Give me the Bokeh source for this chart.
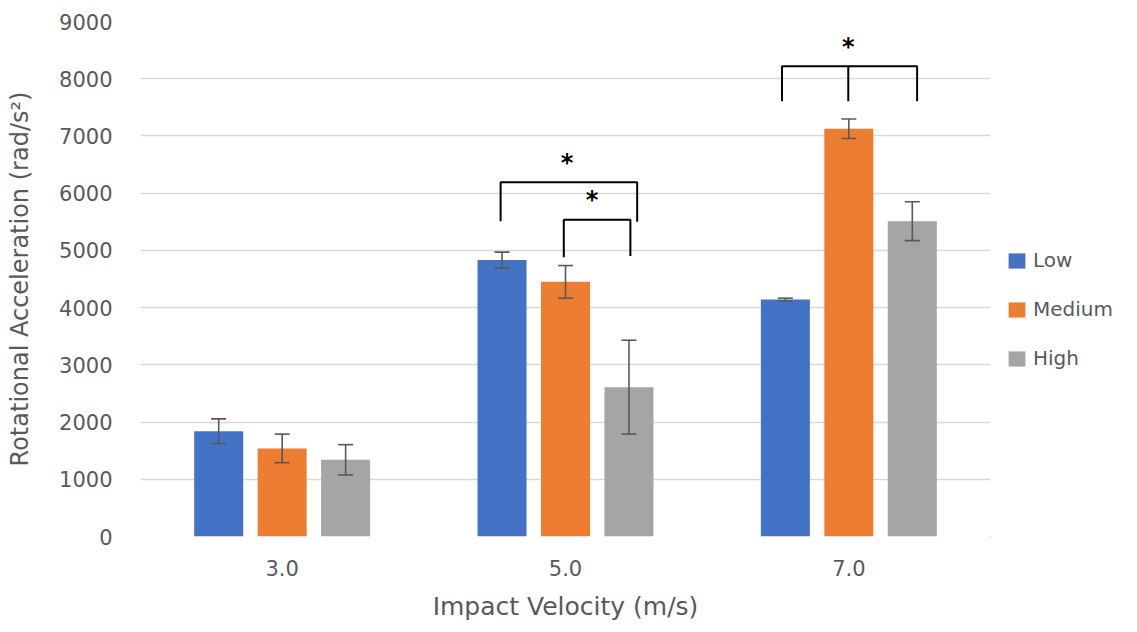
from bokeh.plotting import figure
from bokeh.layouts import row
from bokeh.models import ColumnDataSource, Range1d, FixedTicker, Legend, LegendItem
from bokeh.core.properties import value
from bokeh.embed import file_html
from bokeh.resources import INLINE

# ---------------- data ----------------
categories = ["3.0", "5.0", "7.0"]
series_names = ["Low", "Medium", "High"]
low = [1840, 4830, 4140]
low_err = [215, 140, 25]
medium = [1540, 4450, 7125]
medium_err = [250, 285, 170]
high = [1340, 2610, 5510]
high_err = [265, 820, 340]
colors = ["#4472C4", "#ED7D31", "#A5A5A5"]

# significance brackets (x in category units, y in rad/s^2)
bracket_xs = [[1.271, 1.271, 1.753, 1.753],
              [1.494, 1.494, 1.729, 1.729],
              [2.264, 2.264, 2.741, 2.741],
              [2.498, 2.498]]
bracket_ys = [[5510, 6190, 6190, 5500],
              [4880, 5535, 5535, 4900],
              [7605, 8217, 8217, 7605],
              [7605, 8217]]
star_x = [1.505, 1.594, 2.498]
star_y = [6521, 5881, 8561]
star_text = ["*", "*", "*"]

FONT = "DejaVu Sans"
GRAY = "#595959"

p = figure(width=990, height=632, output_backend="svg", toolbar_location=None,
           x_range=Range1d(0, 3), y_range=Range1d(0, 9000),
           min_border_left=140, min_border_right=0, min_border_top=21,
           min_border_bottom=96)
p.outline_line_color = None
p.background_fill_color = "white"
p.border_fill_color = "white"

# bars
offsets = [-0.224, 0.0, 0.224]
bar_w = 0.173
vals = [low, medium, high]
errs = [low_err, medium_err, high_err]
sources = []
for name, v, e, off, c in zip(series_names, vals, errs, offsets, colors):
    xs = [i + 0.5 + off for i in range(len(categories))]
    src = ColumnDataSource(dict(x=xs, top=v,
                                up=[a + b for a, b in zip(v, e)],
                                lo=[a - b for a, b in zip(v, e)]))
    sources.append(src)
    p.vbar(x="x", top="top", width=bar_w, bottom=0, source=src,
           fill_color=c, line_color=None)
    p.segment(x0="x", y0="lo", x1="x", y1="up", source=src,
              line_color=GRAY, line_width=1.6)
    p.scatter(x="x", y="up", marker="dash", size=15, source=src,
              line_color=GRAY, line_width=1.6)
    p.scatter(x="x", y="lo", marker="dash", size=15, source=src,
              line_color=GRAY, line_width=1.6)

# brackets and stars
p.multi_line(xs=bracket_xs, ys=bracket_ys, line_color="black", line_width=2)
p.text(x=star_x, y=star_y, text=star_text, text_font=value(FONT),
       text_font_size="24px", text_font_style="bold", text_color="black",
       text_align="center", text_baseline="middle")

# axes
p.xaxis.ticker = FixedTicker(ticks=[i + 0.5 for i in range(len(categories))])
p.xaxis.major_label_overrides = {i + 0.5: c for i, c in enumerate(categories)}
p.yaxis.ticker = FixedTicker(ticks=list(range(0, 9001, 1000)))
for ax in (p.xaxis[0], p.yaxis[0]):
    ax.axis_line_color = None
    ax.major_tick_line_color = None
    ax.minor_tick_line_color = None
    ax.major_tick_out = 0
    ax.major_tick_in = 0
    ax.major_label_text_font = FONT
    ax.major_label_text_font_size = "21px"
    ax.major_label_text_color = GRAY
    ax.axis_label_text_font = FONT
    ax.axis_label_text_font_style = "normal"
    ax.axis_label_text_color = GRAY
p.xaxis.axis_label = "Impact Velocity (m/s)"
p.xaxis.axis_label_text_font_size = "25px"
p.xaxis.major_label_standoff = 23
p.xaxis.axis_label_standoff = 13
p.yaxis.axis_label = "Rotational Acceleration (rad/s²)"
p.yaxis.axis_label_text_font_size = "24px"
p.yaxis.major_label_standoff = 28
p.yaxis.axis_label_standoff = 22

p.xgrid.grid_line_color = None
p.ygrid.grid_line_color = "#D9D9D9"
p.ygrid.grid_line_width = 1.5

# legend figure (to the right of the plot area); its bars lie far outside its view
lf = figure(width=147, height=632, output_backend="svg", toolbar_location=None,
            x_range=Range1d(100, 101), y_range=Range1d(50000, 60000),
            x_axis_location=None, y_axis_location=None,
            min_border_left=0, min_border_right=0, min_border_top=0,
            min_border_bottom=0)
lf.grid.visible = False
lf.outline_line_color = None
legend_items = []
for name, c, src in zip(series_names, colors, sources):
    r = lf.vbar(x="x", top="top", width=bar_w, bottom=0, source=src,
                fill_color=c, line_color=None)
    legend_items.append(LegendItem(label=name, renderers=[r]))
legend = Legend(items=legend_items, location=(16, 166), orientation="vertical",
                padding=0, margin=0, border_line_color=None,
                background_fill_alpha=0, label_text_font=FONT,
                label_text_font_size="20px", label_text_color=GRAY,
                glyph_width=21, glyph_height=19, label_height=24,
                label_standoff=6, spacing=25)
lf.add_layout(legend, "center")

layout = row(p, lf, spacing=0)
open("out.html", "w").write(file_html(layout, INLINE))
